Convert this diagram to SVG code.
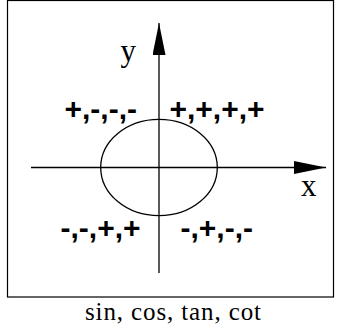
<svg xmlns="http://www.w3.org/2000/svg" width="341" height="330" viewBox="0 0 341 330">
  <style>
    .lbl { font-family: "Liberation Sans", Arial, sans-serif; font-weight: bold; font-size: 30px; fill: #000; }
    .ax { font-family: "Liberation Serif", "Times New Roman", serif; font-size: 31px; fill: #000; }
    .axis { stroke: #000; stroke-width: 1.3; fill: none; }
  </style>
  <defs>
    <marker id="arrow" markerUnits="userSpaceOnUse" markerWidth="33" markerHeight="14" refX="32" refY="6.5" orient="auto">
      <path d="M0,0 L32,6.5 L0,13 z" fill="#000"/>
    </marker>
  </defs>
  <rect width="341" height="330" fill="#fff"/>
  <g id="frame">
    <rect x="7.5" y="0.5" width="326" height="296.5" fill="none" stroke="#000" stroke-width="1.2"/>
  </g>
  <g id="circle">
    <ellipse cx="159" cy="167.5" rx="58.3" ry="48.2" fill="none" stroke="#000" stroke-width="1.3"/>
  </g>
  <g id="connectors">
    <line class="axis" x1="159" y1="273" x2="159" y2="23" marker-end="url(#arrow)"/>
    <line class="axis" x1="31" y1="167.5" x2="326" y2="167.5" marker-end="url(#arrow)"/>
  </g>
  <g id="axis-y-label"><text class="ax" x="120.5" y="61">y</text></g>
  <g id="axis-x-label"><text class="ax" x="301" y="196">x</text></g>
  <g id="q2"><text class="lbl" x="64.5" y="119">+,-,-,-</text></g>
  <g id="q1"><text class="lbl" x="169.5" y="119">+,+,+,+</text></g>
  <g id="q3"><text class="lbl" x="60.5" y="238">-,-,+,+</text></g>
  <g id="q4"><text class="lbl" x="180.5" y="238">-,+,-,-</text></g>
  <g id="caption"><text x="85" y="320" font-family="'Liberation Serif', 'DejaVu Serif', serif" font-size="25" fill="#000" textLength="176" lengthAdjust="spacing">sin, cos, tan, cot</text></g>
</svg>
